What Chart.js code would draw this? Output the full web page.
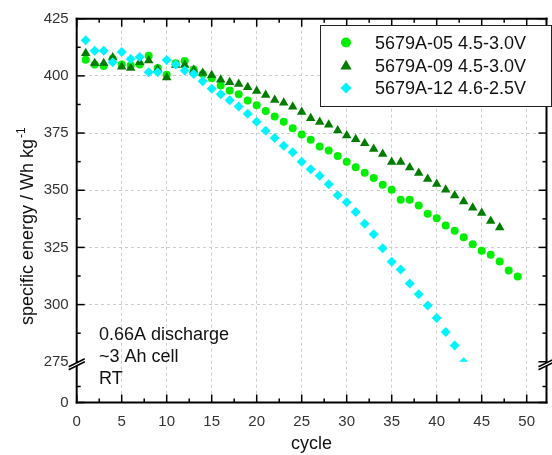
<!DOCTYPE html>
<html>
<head>
<meta charset="utf-8">
<script src="https://cdn.jsdelivr.net/npm/chart.js@4.4.1/dist/chart.umd.min.js"></script>
<style>
  html, body { margin: 0; padding: 0; background: #fff; }
</style>
</head>
<body>
<canvas id="energyChart" width="552" height="455"></canvas>
<script>
// Specific energy vs. cycle, three cells

const cycles = [1, 2, 3, 4, 5, 6, 7, 8, 9, 10, 11, 12, 13, 14, 15, 16, 17, 18, 19, 20,
  21, 22, 23, 24, 25, 26, 27, 28, 29, 30, 31, 32, 33, 34, 35, 36, 37, 38, 39, 40,
  41, 42, 43, 44, 45, 46, 47, 48, 49];

const energy05 = [407.0, 405.0, 404.3, 407.5, 405.0, 404.5, 405.0, 408.8, 403.5, 400.5,
  405.5, 406.5, 402.8, 400.8, 399.0, 395.8, 393.6, 392.0, 389.2, 387.2,
  384.6, 382.2, 380.0, 377.1, 374.4, 372.1, 369.1, 367.4, 365.0, 362.5,
  360.1, 357.7, 355.3, 352.4, 350.2, 345.8, 345.8, 343.3, 339.7, 337.8,
  334.6, 332.3, 329.5, 326.4, 323.5, 321.8, 318.8, 314.9, 312.3];

const energy09 = [409.9, 405.5, 405.5, 408.0, 404.0, 403.5, 406.0, 406.7, 402.9, 399.3,
  404.8, 404.8, 402.6, 401.3, 400.3, 398.3, 397.2, 396.4, 395.0, 393.4,
  391.6, 389.5, 388.3, 386.5, 384.2, 381.5, 379.8, 378.6, 376.1, 373.9,
  372.3, 370.6, 368.0, 365.9, 362.3, 362.3, 359.9, 357.5, 354.9, 352.7,
  350.2, 347.7, 345.1, 342.4, 340.0, 336.6, 333.7];

const energy12 = [415.6, 411.0, 411.0, 406.0, 410.4, 407.4, 408.3, 401.6, 401.6, 406.9,
  405.0, 402.3, 400.8, 397.6, 394.4, 392.0, 389.3, 386.6, 383.4, 380.0,
  376.0, 372.8, 369.5, 366.6, 362.5, 359.2, 356.3, 352.6, 347.8, 344.8,
  340.5, 335.3, 330.8, 324.6, 318.7, 315.4, 309.2, 304.5, 299.6, 294.1,
  288.0, 282.1, 274.8];

const seriesNames = ['5679A-05 4.5-3.0V', '5679A-09 4.5-3.0V', '5679A-12 4.6-2.5V'];
const noteLines = ['0.66A discharge', '~3 Ah cell', 'RT'];

// axis ticks (y axis is broken at 275; the "0" sits at the bottom of the short segment)
const BREAK_AT = 275;
const Y_ZERO = 257.2;
const xMajor = [0, 5, 10, 15, 20, 25, 30, 35, 40, 45, 50];
const xMinor = [2.5, 7.5, 12.5, 17.5, 22.5, 27.5, 32.5, 37.5, 42.5, 47.5];
const yMajor = [Y_ZERO, 275, 300, 325, 350, 375, 400, 425];
const yMinor = [264.2, 287.5, 312.5, 337.5, 362.5, 387.5, 412.5];

const FONT = "'Liberation Sans', Arial, sans-serif";
const GREEN = '#00ee00';
const DARK_GREEN = '#007d00';
const CYAN = '#00f4ff';

function toPoints(ys) {
  return ys.map((y, i) => ({ x: cycles[i], y: y }));
}

function line(ctx, x1, y1, x2, y2) {
  ctx.beginPath();
  ctx.moveTo(x1, y1);
  ctx.lineTo(x2, y2);
  ctx.stroke();
}

function marker(ctx, style, x, y, r, color) {
  ctx.fillStyle = color;
  ctx.beginPath();
  if (style === 'circle') {
    ctx.arc(x, y, r, 0, Math.PI * 2);
  } else if (style === 'triangle') {
    for (let k = 0; k < 3; k++) {
      const a = k * 2 * Math.PI / 3;
      const px = x + Math.sin(a) * r, py = y - Math.cos(a) * r;
      if (k === 0) ctx.moveTo(px, py); else ctx.lineTo(px, py);
    }
    ctx.closePath();
  } else {
    ctx.moveTo(x, y - r);
    ctx.lineTo(x + r, y);
    ctx.lineTo(x, y + r);
    ctx.lineTo(x - r, y);
    ctx.closePath();
  }
  ctx.fill();
}

const framePlugin = {
  id: 'frame',
  beforeDatasetsDraw(chart) {
    const { left, top, right } = chart.chartArea;
    const yb = chart.scales.y.getPixelForValue(BREAK_AT);
    chart.ctx.save();
    chart.ctx.beginPath();
    chart.ctx.rect(left, top, right - left, yb - top);
    chart.ctx.clip();
  },
  afterDatasetsDraw(chart) {
    chart.ctx.restore();
  },
  afterDraw(chart) {
    const ctx = chart.ctx;
    const xs = chart.scales.x, ys = chart.scales.y;
    const { left, right, top, bottom } = chart.chartArea;
    ctx.save();
    ctx.strokeStyle = '#000';
    ctx.lineCap = 'square';

    // frame
    ctx.lineWidth = 2;
    line(ctx, left, top, left, bottom);
    line(ctx, left, bottom, right, bottom);
    line(ctx, left, top, right, top);
    line(ctx, right, top, right, bottom);

    // ticks, all pointing inwards
    ctx.lineWidth = 1.5;
    ctx.lineCap = 'butt';
    xMajor.forEach(v => {
      const p = xs.getPixelForValue(v);
      line(ctx, p, bottom, p, bottom - 8);
      line(ctx, p, top, p, top + 8);
    });
    xMinor.forEach(v => {
      const p = xs.getPixelForValue(v);
      line(ctx, p, bottom, p, bottom - 4);
      line(ctx, p, top, p, top + 4);
    });
    yMajor.forEach(v => {
      const p = ys.getPixelForValue(v);
      line(ctx, left, p, left + 8, p);
      line(ctx, right, p, right - 8, p);
    });
    yMinor.forEach(v => {
      const p = ys.getPixelForValue(v);
      line(ctx, left, p, left + 4, p);
      line(ctx, right, p, right - 4, p);
    });

    // axis break marks
    const yb = ys.getPixelForValue(BREAK_AT) + 3;
    [left, right].forEach(ax => {
      ctx.fillStyle = '#fff';
      ctx.beginPath();
      ctx.moveTo(ax - 8, yb + 2);
      ctx.lineTo(ax + 8, yb - 6);
      ctx.lineTo(ax + 8, yb - 3);
      ctx.lineTo(ax - 8, yb + 5);
      ctx.closePath();
      ctx.fill();
      ctx.lineWidth = 1.5;
      line(ctx, ax - 8, yb + 2, ax + 8, yb - 6);
      line(ctx, ax - 8, yb + 5, ax + 8, yb - 3);
    });

    // axis titles
    ctx.fillStyle = '#111';
    ctx.font = '18px ' + FONT;
    ctx.textAlign = 'center';
    ctx.textBaseline = 'alphabetic';
    ctx.fillText('cycle', (left + right) / 2, 449);

    ctx.save();
    ctx.translate(33, 325);
    ctx.rotate(-Math.PI / 2);
    ctx.textAlign = 'left';
    const main = 'specific energy / Wh kg';
    ctx.fillText(main, 0, 0);
    const w = ctx.measureText(main).width;
    ctx.font = '12px ' + FONT;
    ctx.fillText('-1', w + 1, -8);
    ctx.restore();

    // note text
    ctx.font = '18px ' + FONT;
    ctx.textAlign = 'left';
    noteLines.forEach((t, i) => ctx.fillText(t, 99, 339.5 + i * 22.3));

    // legend
    ctx.lineWidth = 1;
    ctx.strokeStyle = '#222';
    ctx.fillStyle = '#fff';
    ctx.fillRect(320.5, 25.5, 231, 81);
    ctx.strokeRect(320.5, 25.5, 231, 81);
    const legendStyles = [['circle', 5, GREEN], ['triangle', 6.5, DARK_GREEN], ['diamond', 5.5, CYAN]];
    seriesNames.forEach((name, i) => {
      const cy = 42.5 + i * 22.7;
      const st = legendStyles[i];
      marker(ctx, st[0], 346, cy + (st[0] === 'triangle' ? 1 : 0), st[1], st[2]);
      ctx.fillStyle = '#111';
      ctx.font = '18px ' + FONT;
      ctx.fillText(name, 375, cy + 6.3);
    });
    ctx.restore();
  }
};

const ctx = document.getElementById('energyChart');
new Chart(ctx, {
  type: 'scatter',
  data: {
    datasets: [
      {
        label: seriesNames[2],
        data: toPoints(energy12),
        pointStyle: 'rectRot',
        pointRadius: 5,
        backgroundColor: CYAN,
        borderWidth: 0,
        order: 1
      },
      {
        label: seriesNames[1],
        data: toPoints(energy09),
        pointStyle: 'triangle',
        pointRadius: 5.5,
        backgroundColor: DARK_GREEN,
        borderWidth: 0,
        order: 2
      },
      {
        label: seriesNames[0],
        data: toPoints(energy05),
        pointStyle: 'circle',
        pointRadius: 4,
        backgroundColor: GREEN,
        borderWidth: 0,
        order: 3
      }
    ]
  },
  options: {
    responsive: false,
    animation: false,
    events: [],
    layout: {
      padding: { top: 18.7, right: 1, bottom: 0, left: 0 }
    },
    plugins: {
      legend: { display: false },
      tooltip: { enabled: false }
    },
    scales: {
      x: {
        type: 'linear',
        min: 0,
        max: 52.2,
        afterBuildTicks: function(scale) {
          scale.ticks = xMajor.map(v => ({ value: v }));
        },
        afterFit: function(scale) {
          scale.height = 52.5;
        },
        border: { display: false, dash: [3, 3] },
        grid: {
          drawTicks: false,
          lineWidth: 1,
          color: c => (c.tick && c.tick.value === 0) ? 'rgba(0,0,0,0)' : '#cccccc'
        },
        ticks: {
          padding: 10,
          color: '#333',
          font: { family: FONT, size: 15 }
        }
      },
      y: {
        type: 'linear',
        min: Y_ZERO,
        max: 425,
        afterBuildTicks: function(scale) {
          scale.ticks = yMajor.map(v => ({ value: v }));
        },
        afterFit: function(scale) {
          scale.width = 76.7;
        },
        border: { display: false, dash: [3, 3] },
        grid: {
          drawTicks: false,
          lineWidth: 1,
          color: c => {
            const v = c.tick ? c.tick.value : 0;
            return (v <= BREAK_AT || v >= 425) ? 'rgba(0,0,0,0)' : '#cccccc';
          }
        },
        ticks: {
          padding: 8,
          color: '#333',
          font: { family: FONT, size: 15 },
          callback: function(value) {
            return value === Y_ZERO ? '0' : value;
          }
        }
      }
    }
  },
  plugins: [framePlugin]
});
</script>
</body>
</html>
